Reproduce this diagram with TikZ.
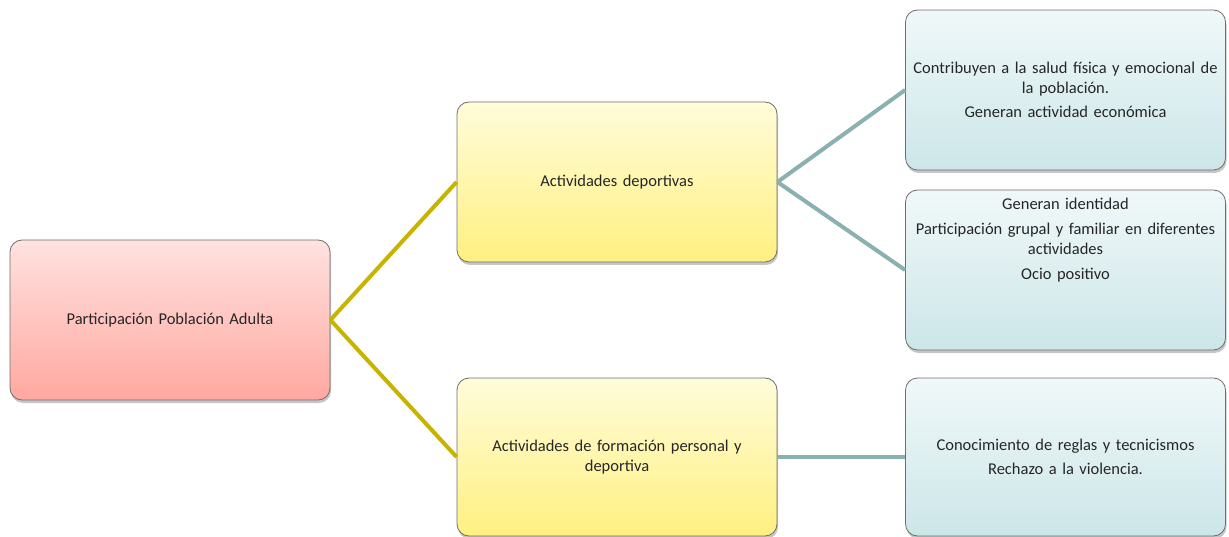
\documentclass[tikz,border=0pt]{standalone}
\usepackage{fontspec}
\setmainfont{Carlito}[WordSpace=0.5]
\usetikzlibrary{shadows}
\definecolor{gold}{RGB}{200,180,0}
\definecolor{teal2}{RGB}{138,176,176}
\definecolor{redtop}{RGB}{255,226,224}
\definecolor{redbot}{RGB}{255,168,160}
\definecolor{yeltop}{RGB}{255,252,218}
\definecolor{yelbot}{RGB}{255,240,128}
\definecolor{blutop}{RGB}{240,248,249}
\definecolor{blubot}{RGB}{204,230,232}
\definecolor{edge}{RGB}{110,110,110}
\tikzset{
  boxtext/.style={align=center, text width=316pt, inner xsep=1pt,
    font=\fontsize{16.5}{20}\selectfont, text=black!85},
  boxbase/.style={boxtext, rectangle, rounded corners=12pt, draw=edge, line width=0.8pt,
    minimum width=320pt, minimum height=160pt,
    drop shadow={shadow xshift=1pt, shadow yshift=-3pt, opacity=0.45}},
  redbox/.style={boxbase, top color=redtop, bottom color=redbot},
  yelbox/.style={boxbase, top color=yeltop, bottom color=yelbot},
  blubox/.style={boxbase, top color=blutop, bottom color=blubot},
  goldline/.style={draw=gold, line width=4pt},
  tealline/.style={draw=teal2, line width=4pt}
}
\begin{document}
\begin{tikzpicture}[x=1pt,y=-1pt]
\useasboundingbox (0,0) rectangle (1229,537);
\node[redbox] (root) at (170,320) {Participación Población Adulta};
\node[yelbox] (ad) at (617,182) {Actividades deportivas};
\node[yelbox, minimum height=158pt] (af) at (617,457) {Actividades de formación personal y\\ deportiva};
\node[blubox] (c1) at (1065.5,90) {Contribuyen a la salud física y emocional de\\ la población.\\[4pt] Generan actividad económica};
\node[blubox] (c2) at (1065.5,270) {};
\node[boxtext, anchor=north] (c2t) at (1065.5,195) {Generan identidad\\[5pt] Participación grupal y familiar en diferentes\\ actividades\\[5pt] Ocio positivo};
\node[blubox, minimum height=158pt] (c3) at (1065.5,457) {Conocimiento de reglas y tecnicismos\\[4pt] Rechazo a la violencia.};
\draw[goldline] (root.east) -- (ad.west);
\draw[goldline] (root.east) -- (af.west);
\draw[tealline] (ad.east) -- (c1.west);
\draw[tealline] (ad.east) -- (c2.west);
\draw[tealline] (af.east) -- (c3.west);
\end{tikzpicture}
\end{document}
